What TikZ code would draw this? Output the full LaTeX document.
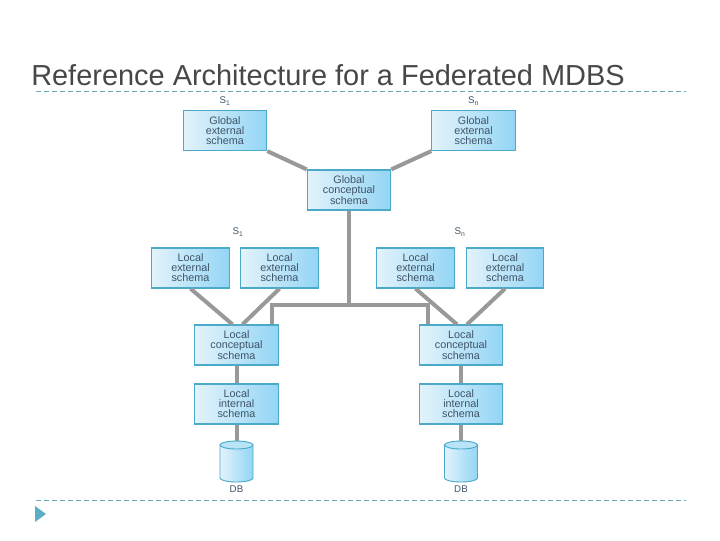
\documentclass[tikz,border=0pt]{standalone}
\usepackage{fontspec}
\setmainfont{Liberation Sans}
\usetikzlibrary{calc}
\definecolor{boxedge}{HTML}{4BA9C9}
\definecolor{boxleft}{HTML}{E3F3FB}
\definecolor{boxright}{HTML}{93D5F5}
\definecolor{boxtext}{HTML}{3F5468}
\definecolor{rulecol}{HTML}{6FA9B5}
\definecolor{linkcol}{HTML}{999999}
\definecolor{markcol}{HTML}{5AAEC5}
\tikzset{
    schemabig/.style={draw=boxedge, line width=0.9pt, left color=boxleft, right color=boxright, minimum width=62.5pt, minimum height=30pt, inner sep=0pt, align=center, text=boxtext, font=\fontsize{8.1}{7.5}\selectfont},
    schemasmall/.style={schemabig, minimum width=58pt},
    link/.style={draw=linkcol, line width=3pt},
    tag/.style={text=boxtext, font=\fontsize{7.3}{8}\selectfont, inner sep=0pt},
    headrule/.style={draw=rulecol, dash pattern=on 4pt off 2pt, line width=0.6pt},
    dbbody/.style={draw=boxedge, line width=0.7pt, left color=boxleft, right color=boxright},
    dbtop/.style={draw=boxedge, line width=0.7pt, fill=boxright!65}
}

\begin{document}
\begin{tikzpicture}[x=0.75pt,y=-0.75pt]
        \useasboundingbox (0,0) rectangle (720,540);

        \node[anchor=base west, inner sep=0pt, text=black!72, font=\fontsize{21.7}{24}\selectfont] (title) at (31,85) {Reference Architecture for a Federated MDBS};
        \coordinate (topa) at (36,91);
        \coordinate (topb) at (686,91);
        \coordinate (bota) at (36,500);
        \coordinate (botb) at (686,500);
        \draw[headrule] (topa)--(topb);
        \draw[headrule] (bota)--(botb);
        \fill[markcol] (35,506)--(46,514)--(35,522)--cycle;

        % global level
        \node[schemabig] (gext1) at (225,130.5) {Global\\external\\schema};
        \node[schemabig] (gext2) at (473.5,130.5) {Global\\external\\schema};
        \node[schemabig] (gcon) at (349,190) {Global\\conceptual\\schema};

        % local external level
        \node[schemasmall] (lext1) at (190.5,268) {Local\\external\\schema};
        \node[schemasmall] (lext2) at (279.5,268) {Local\\external\\schema};
        \node[schemasmall] (lext3) at (415.5,268) {Local\\external\\schema};
        \node[schemasmall] (lext4) at (505,268) {Local\\external\\schema};

        % local conceptual and internal level
        \node[schemabig] (lcon1) at (236.5,345) {Local\\conceptual\\schema};
        \node[schemabig] (lcon2) at (461,345) {Local\\conceptual\\schema};
        \node[schemabig] (lint1) at (236.5,404) {Local\\internal\\schema};
        \node[schemabig] (lint2) at (461,404) {Local\\internal\\schema};

        \coordinate (db1) at (236.5,445);
        \coordinate (db2) at (461,445);
        \node[tag] (dbtag1) at (236.5,489) {DB};
        \node[tag] (dbtag2) at (461,489) {DB};

        \node[tag] (s1) at (225,101) {S\textsubscript{1}};
        \node[tag] (sn) at (473.5,101) {S\textsubscript{n}};
        \node[tag] (s2) at (238,232) {S\textsubscript{1}};
        \node[tag] (s3) at (460,232) {S\textsubscript{n}};

        % connectors
        \draw[link] (gext1.south east)--(gcon.north west);
        \draw[link] (gext2.south west)--(gcon.north east);
        \draw[link] (lext1.south)--($(lcon1.north)+(-4,0)$);
        \draw[link] (lext2.south)--($(lcon1.north)+(6,0)$);
        \draw[link] (lext3.south)--($(lcon2.north)+(-4,0)$);
        \draw[link] (lext4.south)--($(lcon2.north)+(6,0)$);

        \coordinate (busa) at ($(lcon1.north east)+(-7,-19)$);
        \coordinate (busb) at ($(lcon2.north west)+(9,-19)$);
        \coordinate (busm) at (gcon.south |- busa);
        \draw[link] (gcon.south)--(busm);
        \draw[link] ($(lcon1.north east)+(-7,0)$)--(busa)--(busb)--($(lcon2.north west)+(9,0)$);

        \draw[link] (lcon1.south)--(lint1.north);
        \draw[link] (lcon2.south)--(lint2.north);
        \draw[link] (lint1.south)--(db1);
        \draw[link] (lint2.south)--(db2);

        % databases
        \draw[dbbody] ($(db1)+(-16.5,0)$) --++(0,33) arc[start angle=180, end angle=0, x radius=16.5, y radius=4] --++(0,-33) --cycle;
        \draw[dbtop] (db1) ellipse[x radius=16.5, y radius=4];
        \draw[dbbody] ($(db2)+(-16.5,0)$) --++(0,33) arc[start angle=180, end angle=0, x radius=16.5, y radius=4] --++(0,-33) --cycle;
        \draw[dbtop] (db2) ellipse[x radius=16.5, y radius=4];
\end{tikzpicture}
\end{document}
